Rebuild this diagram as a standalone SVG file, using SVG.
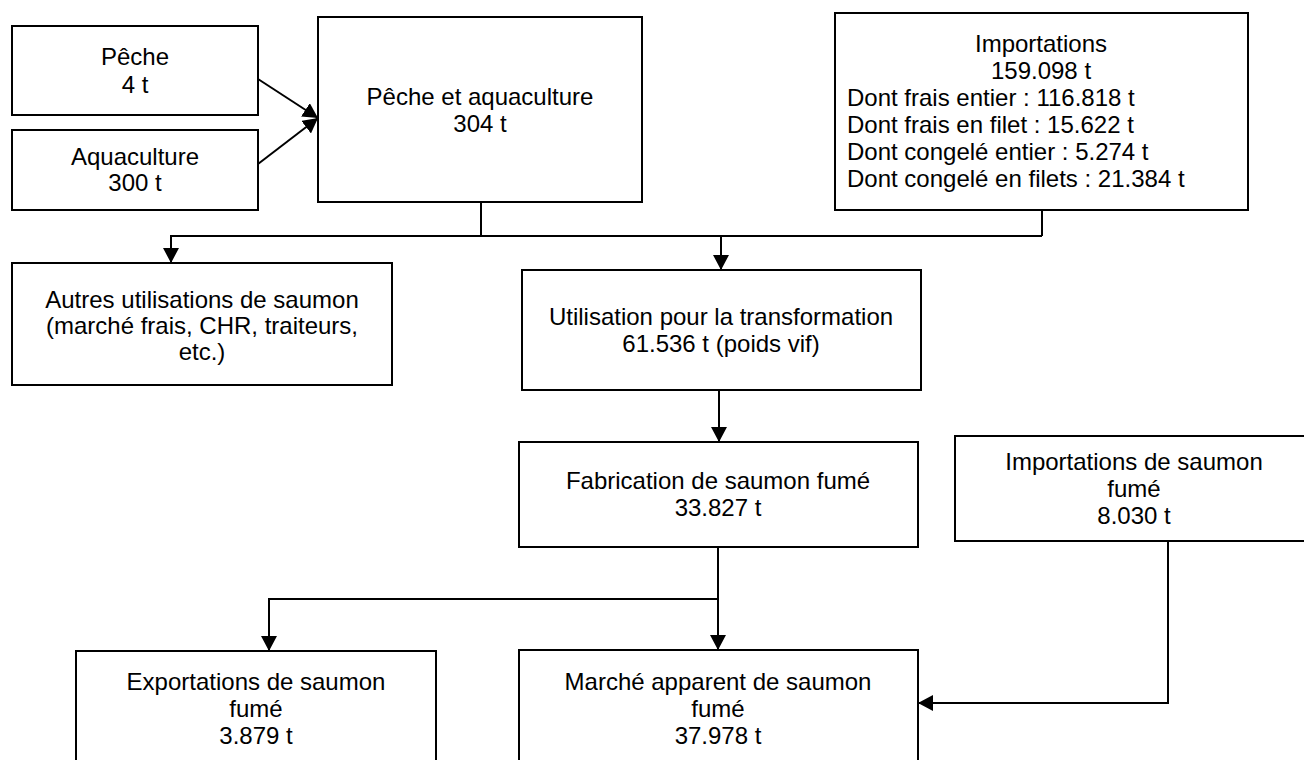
<svg xmlns="http://www.w3.org/2000/svg" width="1304" height="760" viewBox="0 0 1304 760">
<style>
.box{fill:#fff;stroke:#000;stroke-width:2}
.t{font-family:"Liberation Sans",Arial,sans-serif;font-size:24px;fill:#000;text-anchor:middle}
.l{text-anchor:start}
.c{fill:none;stroke:#000;stroke-width:2}
</style>
<defs>
<marker id="ah" viewBox="0 0 15 16" refX="15" refY="8" markerWidth="15" markerHeight="16" markerUnits="userSpaceOnUse" orient="auto">
<path d="M0,0 L15,8 L0,16 z" fill="#000"/>
</marker>
</defs>
<rect width="1304" height="760" fill="#fff"/>
<g id="connectors">
<line class="c" x1="258" y1="79" x2="318" y2="118" marker-end="url(#ah)"/>
<line class="c" x1="258" y1="164" x2="318" y2="118" marker-end="url(#ah)"/>
<polyline class="c" points="481,202 481,236"/>
<polyline class="c" points="1042,210 1042,236"/>
<polyline class="c" points="1042,236 171,236 171,263" marker-end="url(#ah)"/>
<polyline class="c" points="721,236 721,270" marker-end="url(#ah)"/>
<polyline class="c" points="719,390 719,442" marker-end="url(#ah)"/>
<polyline class="c" points="718,547 718,650" marker-end="url(#ah)"/>
<polyline class="c" points="718,599 269,599 269,651" marker-end="url(#ah)"/>
<polyline class="c" points="1168,541 1168,703 918,703" marker-end="url(#ah)"/>
</g>
<g id="peche">
<rect class="box" x="12" y="26" width="246" height="89"/>
<text class="t" x="135" y="65">Pêche</text>
<text class="t" x="135" y="93">4 t</text>
</g>
<g id="aquaculture">
<rect class="box" x="12" y="130" width="246" height="80"/>
<text class="t" x="135" y="165">Aquaculture</text>
<text class="t" x="135" y="191">300 t</text>
</g>
<g id="peche-aquaculture">
<rect class="box" x="318" y="17" width="324" height="185"/>
<text class="t" x="480" y="105">Pêche et aquaculture</text>
<text class="t" x="480" y="132">304 t</text>
</g>
<g id="importations">
<rect class="box" x="835" y="13" width="413" height="197"/>
<text class="t" x="1041" y="52">Importations</text>
<text class="t" x="1041" y="79">159.098 t</text>
<text class="t l" x="847" y="106">Dont frais entier : 116.818 t</text>
<text class="t l" x="847" y="133">Dont frais en filet : 15.622 t</text>
<text class="t l" x="847" y="160">Dont congelé entier : 5.274 t</text>
<text class="t l" x="847" y="187">Dont congelé en filets : 21.384 t</text>
</g>
<g id="autres">
<rect class="box" x="12" y="263" width="380" height="122"/>
<text class="t" x="202" y="308">Autres utilisations de saumon</text>
<text class="t" x="202" y="334">(marché frais, CHR, traiteurs,</text>
<text class="t" x="202" y="360">etc.)</text>
</g>
<g id="utilisation">
<rect class="box" x="522" y="270" width="399" height="120"/>
<text class="t" x="721" y="325">Utilisation pour la transformation</text>
<text class="t" x="721" y="352">61.536 t (poids vif)</text>
</g>
<g id="fabrication">
<rect class="box" x="519" y="442" width="399" height="105"/>
<text class="t" x="718" y="489">Fabrication de saumon fumé</text>
<text class="t" x="718" y="516">33.827 t</text>
</g>
<g id="importations-fume">
<rect class="box" x="955" y="436" width="358" height="105"/>
<text class="t" x="1134" y="470">Importations de saumon</text>
<text class="t" x="1134" y="497">fumé</text>
<text class="t" x="1134" y="524">8.030 t</text>
</g>
<g id="exportations">
<rect class="box" x="76" y="651" width="360" height="117"/>
<text class="t" x="256" y="690">Exportations de saumon</text>
<text class="t" x="256" y="717">fumé</text>
<text class="t" x="256" y="744">3.879 t</text>
</g>
<g id="marche">
<rect class="box" x="519" y="650" width="399" height="118"/>
<text class="t" x="718" y="690">Marché apparent de saumon</text>
<text class="t" x="718" y="717">fumé</text>
<text class="t" x="718" y="744">37.978 t</text>
</g>
</svg>
